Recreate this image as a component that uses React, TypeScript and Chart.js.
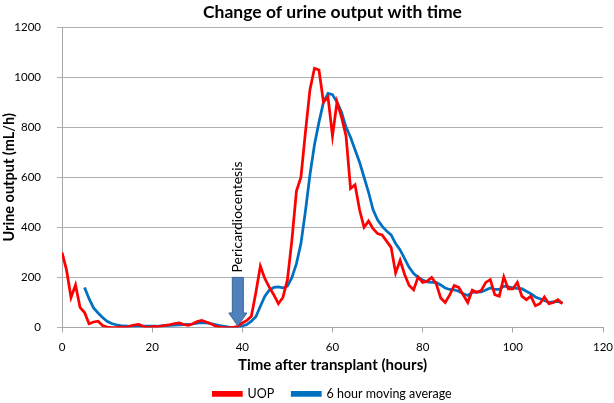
import React, { useEffect, useRef } from "react";
import { Chart, registerables } from "chart.js";

Chart.register(...registerables);

const chartTitle = "Change of urine output with time";
const xAxisTitle = "Time after transplant (hours)";
const yAxisTitle = "Urine output (mL/h)";
const xTickMin = 0;
const xTickMax = 120;
const xTickStep = 20;
const yTickMin = 0;
const yTickMax = 1200;
const yTickStep = 200;

const uopLabel = "UOP";
const uopStartHour = 0;
const uopValues = [
  300, 230, 120, 170, 80, 60, 15, 22, 25, 8,
  2, 0, 0, 2, 0, 5, 10, 12, 5, 0,
  3, 3, 6, 9, 12, 16, 18, 12, 9, 15,
  24, 28, 22, 15, 6, 2, 0, 0, 1, 5,
  18, 28, 45, 140, 245, 195, 160, 130, 95, 120,
  190, 350, 545, 600, 780, 950, 1035, 1028, 900, 920,
  765, 900, 840, 765, 555, 570, 470, 400, 425, 395,
  375, 370, 345, 320, 218, 268, 212, 168, 151, 202,
  180, 185, 200, 175, 118, 100, 130, 168, 160, 130,
  100, 149, 141, 148, 180, 191, 131, 125, 202, 154,
  154, 180, 125, 111, 125, 87, 95, 122, 95, 100,
  111, 95,
];

const avgLabel = "6 hour moving average";
const avgStartHour = 5;
const avgValues = [
  160, 115, 78, 58, 40,
  25, 16, 11, 8, 6, 5, 5, 5, 5, 5,
  5, 5, 6, 7, 8, 9, 10, 11, 12, 14,
  17, 19, 18, 16, 12, 8, 5, 2, 0, 2,
  6, 12, 25, 43, 85, 125, 150, 160, 162, 158,
  165, 200, 255, 335, 465, 610, 730, 820, 900, 935,
  930, 900, 860, 800, 760, 710, 660, 600, 540, 470,
  430, 405, 385, 370, 335, 310, 275, 240, 215, 200,
  190, 182, 180, 180, 170, 158, 152, 150, 145, 135,
  128, 140, 141, 142, 150, 158, 152, 152, 165, 162,
  158, 156, 155, 145, 135, 122, 115, 108, 100, 102,
  104, 98,
];

const annotationText = "Pericardiocentesis";
const annotationHour = 39;
const annotationTopValue = 200;
const annotationTipValue = 6;

const FONT = "Lato, 'Open Sans', sans-serif";

const arrowPlugin = {
  id: "pericardioArrow",
  afterDatasetsDraw(chart: any) {
    const { ctx, scales } = chart;
    const x = scales.x.getPixelForValue(annotationHour);
    const yTop = scales.y.getPixelForValue(annotationTopValue);
    const yTip = scales.y.getPixelForValue(annotationTipValue);
    const shaftHalf = 5.5;
    const headHalf = 9;
    const headLen = 13;
    ctx.save();
    ctx.beginPath();
    ctx.moveTo(x - shaftHalf, yTop);
    ctx.lineTo(x + shaftHalf, yTop);
    ctx.lineTo(x + shaftHalf, yTip - headLen);
    ctx.lineTo(x + headHalf, yTip - headLen);
    ctx.lineTo(x, yTip);
    ctx.lineTo(x - headHalf, yTip - headLen);
    ctx.lineTo(x - shaftHalf, yTip - headLen);
    ctx.closePath();
    ctx.fillStyle = "#4F81BD";
    ctx.fill();
    ctx.lineWidth = 1;
    ctx.strokeStyle = "#3A6496";
    ctx.stroke();

    ctx.translate(x, yTop - 5);
    ctx.rotate(-Math.PI / 2);
    ctx.font = `14px ${FONT}`;
    ctx.fillStyle = "#000";
    ctx.textAlign = "left";
    ctx.textBaseline = "middle";
    ctx.fillText(annotationText, 0, 0);
    ctx.restore();
  },
};

export default function App() {
  const canvasRef = useRef<HTMLCanvasElement | null>(null);

  useEffect(() => {
    if (!canvasRef.current) return;
    const uopData = uopValues.map((v, i) => ({ x: uopStartHour + i, y: v }));
    const avgData = avgValues.map((v, i) => ({ x: avgStartHour + i, y: v }));
    const chart = new Chart(canvasRef.current, {
      type: "line",
      data: {
        datasets: [
          {
            label: uopLabel,
            data: uopData,
            borderColor: "#FF0000",
            backgroundColor: "#FF0000",
            borderWidth: 2.75,
            pointRadius: 0,
            tension: 0,
          },
          {
            label: avgLabel,
            data: avgData,
            borderColor: "#0070C0",
            backgroundColor: "#0070C0",
            borderWidth: 2.75,
            pointRadius: 0,
            tension: 0,
          },
        ],
      },
      options: {
        animation: false,
        responsive: false,
        devicePixelRatio: 1,
        layout: { padding: { left: 0, right: 11, top: 0, bottom: -7 } },
        plugins: {
          title: {
            display: true,
            text: chartTitle,
            fullSize: false,
            color: "#000",
            font: { family: FONT, size: 17.5, weight: "bold" },
            padding: { top: 2, bottom: 4 },
          },
          legend: {
            display: true,
            position: "bottom",
            fullSize: false,
            labels: {
              color: "#000",
              font: { family: FONT, size: 12.5 },
              boxWidth: 28,
              boxHeight: 3,
              padding: 18,
            },
          },
          tooltip: { enabled: false },
        },
        scales: {
          x: {
            type: "linear",
            min: xTickMin,
            max: xTickMax,
            ticks: {
              stepSize: xTickStep,
              color: "#000",
              font: { family: FONT, size: 11.5 },
              padding: 8,
              maxRotation: 0,
              callback: (v: any) => String(v),
            },
            grid: {
              drawOnChartArea: false,
              drawTicks: true,
              tickLength: 5,
              color: "#A6A6A6",
            },
            border: { display: true, color: "#A6A6A6" },
            title: {
              display: true,
              text: xAxisTitle,
              color: "#000",
              font: { family: FONT, size: 15, weight: "bold" },
              padding: { top: 0, bottom: -5 },
            },
            afterFit: (scale: any) => {
              scale.height = 42;
              scale.paddingRight = 0;
              scale.paddingLeft = 0;
            },
          },
          y: {
            type: "linear",
            min: yTickMin,
            max: yTickMax,
            ticks: {
              stepSize: yTickStep,
              color: "#000",
              font: { family: FONT, size: 11.5 },
              padding: 16,
              callback: (v: any) => String(v),
            },
            grid: {
              drawOnChartArea: true,
              drawTicks: true,
              tickLength: 5,
              color: "#B0B0B0",
            },
            border: { display: true, color: "#A6A6A6" },
            title: {
              display: true,
              text: yAxisTitle,
              color: "#000",
              font: { family: FONT, size: 14.5, weight: "bold" },
              padding: { top: 1, bottom: 0 },
            },
            afterFit: (scale: any) => {
              scale.width = 62;
            },
          },
        },
      },
      plugins: [arrowPlugin],
    } as any);
    return () => chart.destroy();
  }, []);

  return (
    <div style={{ position: "absolute", left: 0, top: 0, width: 614, height: 403, background: "#fff" }}>
      <canvas ref={canvasRef} width={614} height={403} style={{ width: 614, height: 403, display: "block" }} />
    </div>
  );
}
